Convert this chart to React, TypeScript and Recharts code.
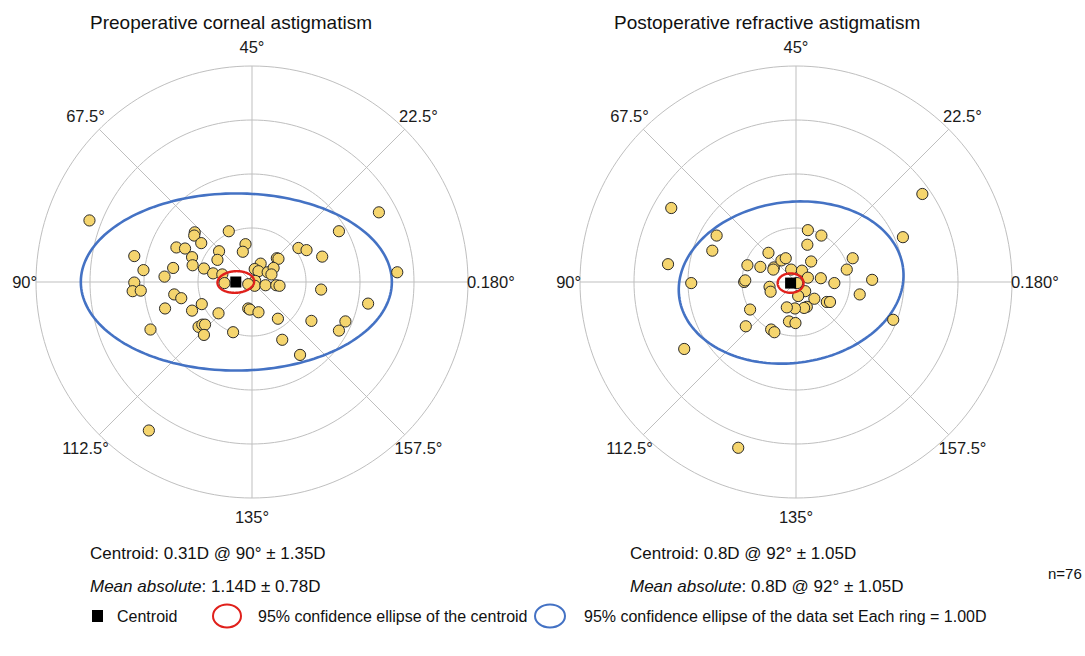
import React from 'react';
import { ScatterChart, Scatter, XAxis, YAxis } from 'recharts';

// ---------- data ----------
const angleLabels = ['0.180°', '22.5°', '45°', '67.5°', '90°', '112.5°', '135°', '157.5°'];
const ringValues = [1, 2, 3, 4];
const spokeAxisAngles = [0, 22.5, 45, 67.5];

const preopPoints: [number, number][] = [
  [-3.01, 1.14], [2.35, 1.29], [-0.43, 0.94], [-1.06, 0.92], [-1.07, 0.86], [-0.94, 0.72],
  [-1.4, 0.64], [-1.24, 0.62], [-0.12, 0.7], [-0.17, 0.56], [-0.61, 0.57], [-0.64, 0.41],
  [-1.11, 0.46], [-1.1, 0.31], [-2.18, 0.48], [-2.01, 0.22], [-1.46, 0.26], [-1.62, 0.1],
  [-0.89, 0.25], [-0.72, 0.16], [-0.55, 0.14], [-2.18, -0.01], [-2.21, -0.17], [-2.06, -0.16],
  [-1.44, -0.23], [-1.31, -0.3], [-1.61, -0.49], [-1.11, -0.53], [-0.93, -0.41], [-0.62, -0.58],
  [-0.99, -0.83], [-0.92, -0.79], [-0.87, -0.79], [-0.89, -0.98], [-1.88, -0.88], [-0.35, -0.93],
  [-0.07, -0.49], [-0.04, -0.51], [0.12, -0.56], [0.48, -0.68], [0.56, -1.07], [0.89, -1.35],
  [1.1, -0.72], [1.61, -0.9], [1.73, -0.73], [2.15, -0.4], [1.28, -0.14], [1.3, 0.47],
  [0.86, 0.63], [1.01, 0.59], [1.61, 0.94], [2.69, 0.18], [0.46, 0.44], [0.49, 0.43],
  [0.16, 0.34], [0.05, 0.24], [0.12, 0.2], [0.29, 0.18], [0.4, 0.26], [0.36, 0.14],
  [0.06, 0.02], [0.05, -0.07], [0.25, -0.06], [0.45, -0.06], [0.51, -0.07], [-0.07, -0.04],
  [-0.51, -0.02], [-1.91, -2.75],
];

const postopPoints: [number, number][] = [
  [2.34, 1.63], [-2.31, 1.37], [1.98, 0.83], [-1.47, 0.86], [-1.55, 0.58], [-2.37, 0.33],
  [-1.94, -0.02], [-0.51, 0.54], [0.22, 0.96], [0.47, 0.86], [0.21, 0.69], [0.28, 0.38],
  [1.05, 0.44], [0.94, 0.23], [1.41, 0.04], [0.71, -0.02], [0.46, 0.07], [1.18, -0.23],
  [0.57, -0.37], [0.63, -0.37], [0.34, -0.31], [0.17, -0.17], [0.04, -0.26], [0.2, -0.46],
  [0.15, -0.48], [-0.02, -0.49], [-0.17, -0.47], [-0.13, -0.73], [-0.01, -0.76], [-0.46, -0.88],
  [-0.4, -0.93], [-0.93, -0.82], [-0.85, -0.51], [-0.49, -0.09], [-0.47, -0.18], [-0.96, 0.0],
  [-0.94, 0.03], [-0.9, 0.31], [-0.66, 0.28], [-0.41, 0.27], [-0.42, 0.23], [-0.27, 0.4],
  [-0.19, 0.44], [-0.09, 0.23], [0.11, 0.21], [0.22, 0.08], [0.02, -0.02], [1.8, -0.7],
  [-2.07, -1.24], [-1.07, -3.07],
];

// centroid [x, y]
const preopCentroid: [number, number] = [-0.3, 0.0];
const postopCentroid: [number, number] = [-0.1, -0.02];

// ellipses: [cx, cy, semiMajor, semiMinor, rotationDeg]
const preopCentroidEllipse = [-0.3, 0.0, 0.34, 0.2, 3];
const preopDataEllipse = [-0.29, 0.0, 2.88, 1.64, 0];
const postopCentroidEllipse = [-0.1, -0.02, 0.24, 0.18, 0];
const postopDataEllipse = [-0.09, -0.01, 2.09, 1.49, 7.5];

const titles = ['Preoperative corneal astigmatism', 'Postoperative refractive astigmatism'];
const statsPre = ['Centroid: 0.31D @ 90° ± 1.35D', '1.14D ± 0.78D'];
const statsPost = ['Centroid: 0.8D @ 92° ± 1.05D', '0.8D @ 92° ± 1.05D'];

// ---------- helpers ----------
const FONT = '"Liberation Sans", Arial, Helvetica, sans-serif';
const DOMAIN: [number, number] = [-5, 5];
const SIZE = 540;
const GRID = '#bfbfbf';

function circlePts(r: number) {
  const out: { x: number; y: number }[] = [];
  for (let i = 0; i <= 180; i++) {
    const t = (i / 180) * Math.PI * 2;
    out.push({ x: r * Math.cos(t), y: r * Math.sin(t) });
  }
  return out;
}

function ellipsePts(e: number[]) {
  const [cx, cy, a, b, rot] = e;
  const th = (rot * Math.PI) / 180;
  const out: { x: number; y: number }[] = [];
  for (let i = 0; i <= 180; i++) {
    const t = (i / 180) * Math.PI * 2;
    const px = a * Math.cos(t);
    const py = b * Math.sin(t);
    out.push({ x: cx + px * Math.cos(th) - py * Math.sin(th), y: cy + px * Math.sin(th) + py * Math.cos(th) });
  }
  return out;
}

function spokePts(axisDeg: number, r: number) {
  const v = (2 * axisDeg * Math.PI) / 180;
  return [
    { x: -r * Math.cos(v), y: -r * Math.sin(v) },
    { x: r * Math.cos(v), y: r * Math.sin(v) },
  ];
}

function labelPts() {
  return angleLabels.map((label, i) => {
    const v = (2 * i * 22.5 * Math.PI) / 180;
    const side = i === 0 || i === 4;
    const r = side ? 3.98 : 4.36;
    return { x: r * Math.cos(v), y: r * Math.sin(v), label, anchor: i === 0 ? 'start' : i === 4 ? 'end' : 'middle' };
  });
}

const Empty = () => <g />;

const PointShape = (p: any) => (
  <circle cx={p.cx} cy={p.cy} r={5.6} fill="#F5D56E" stroke="#2a2a2a" strokeWidth={1} />
);

const CentroidShape = (p: any) => <rect x={p.cx - 5.5} y={p.cy - 5.5} width={11} height={11} fill="#000" />;

const LabelShape = (p: any) => (
  <text
    x={p.cx}
    y={p.cy}
    textAnchor={p.payload.anchor}
    dominantBaseline="central"
    fontFamily={FONT}
    fontSize={16.5}
    fill="#1a1a1a"
  >
    {p.payload.label}
  </text>
);

function Panel(props: {
  points: [number, number][];
  centroid: [number, number];
  ciEllipse: number[];
  dataEllipse: number[];
  left: number;
  top: number;
}) {
  const pts = props.points.map(([x, y]) => ({ x, y }));
  return (
    <div style={{ position: 'absolute', left: props.left, top: props.top, width: SIZE, height: SIZE }}>
      <ScatterChart width={SIZE} height={SIZE} margin={{ top: 0, right: 0, bottom: 0, left: 0 }}>
        <XAxis type="number" dataKey="x" domain={DOMAIN} hide />
        <YAxis type="number" dataKey="y" domain={DOMAIN} hide />
        {ringValues.map((r) => (
          <Scatter
            key={'ring' + r}
            data={circlePts(r)}
            line={{ stroke: GRID, strokeWidth: 1 }}
            shape={Empty}
            isAnimationActive={false}
          />
        ))}
        {spokeAxisAngles.map((a) => (
          <Scatter
            key={'spoke' + a}
            data={spokePts(a, 4)}
            line={{ stroke: GRID, strokeWidth: 1 }}
            shape={Empty}
            isAnimationActive={false}
          />
        ))}
        <Scatter data={labelPts()} shape={LabelShape} isAnimationActive={false} />
        <Scatter
          data={ellipsePts(props.dataEllipse)}
          line={{ stroke: '#4472C4', strokeWidth: 2.6 }}
          shape={Empty}
          isAnimationActive={false}
        />
        <Scatter data={pts} shape={PointShape} isAnimationActive={false} />
        <Scatter
          data={ellipsePts(props.ciEllipse)}
          line={{ stroke: '#E0201B', strokeWidth: 2.4 }}
          shape={Empty}
          isAnimationActive={false}
        />
        <Scatter
          data={[{ x: props.centroid[0], y: props.centroid[1] }]}
          shape={CentroidShape}
          isAnimationActive={false}
        />
      </ScatterChart>
    </div>
  );
}

export default function App() {
  return (
    <div style={{ position: 'absolute', left: 0, top: 0, width: 1085, height: 656, background: '#fff', overflow: 'hidden' }}>
      <Panel
        points={preopPoints}
        centroid={preopCentroid}
        ciEllipse={preopCentroidEllipse}
        dataEllipse={preopDataEllipse}
        left={252.3 - SIZE / 2}
        top={282.3 - SIZE / 2}
      />
      <Panel
        points={postopPoints}
        centroid={postopCentroid}
        ciEllipse={postopCentroidEllipse}
        dataEllipse={postopDataEllipse}
        left={796 - SIZE / 2}
        top={282.3 - SIZE / 2}
      />
      <svg
        width={1085}
        height={656}
        style={{ position: 'absolute', left: 0, top: 0, pointerEvents: 'none' }}
        fontFamily={FONT}
      >
        <text x={90} y={29} fontSize={19} fill="#111">{titles[0]}</text>
        <text x={614} y={29} fontSize={19} fill="#111">{titles[1]}</text>

        <text x={90} y={559} fontSize={17} fill="#111">{statsPre[0]}</text>
        <text x={90} y={592} fontSize={17} fill="#111">
          <tspan fontStyle="italic">Mean absolute</tspan>
          <tspan>: {statsPre[1]}</tspan>
        </text>
        <text x={630} y={559} fontSize={17} fill="#111">{statsPost[0]}</text>
        <text x={630} y={592} fontSize={17} fill="#111">
          <tspan fontStyle="italic">Mean absolute</tspan>
          <tspan>: {statsPost[1]}</tspan>
        </text>
        <text x={1048} y={579} fontSize={15} fill="#111">n=76</text>

        <rect x={92} y={610} width={11} height={12} fill="#000" />
        <text x={117} y={622} fontSize={16} fill="#111">Centroid</text>
        <ellipse cx={227} cy={616} rx={14} ry={11.5} fill="none" stroke="#E0201B" strokeWidth={2} />
        <text x={258} y={622} fontSize={16} fill="#111">95% confidence ellipse of the centroid</text>
        <ellipse cx={550} cy={616} rx={15} ry={11.5} fill="none" stroke="#4472C4" strokeWidth={2} />
        <text x={584} y={622} fontSize={16} fill="#111">95% confidence ellipse of the data set Each ring = 1.00D</text>
      </svg>
    </div>
  );
}
